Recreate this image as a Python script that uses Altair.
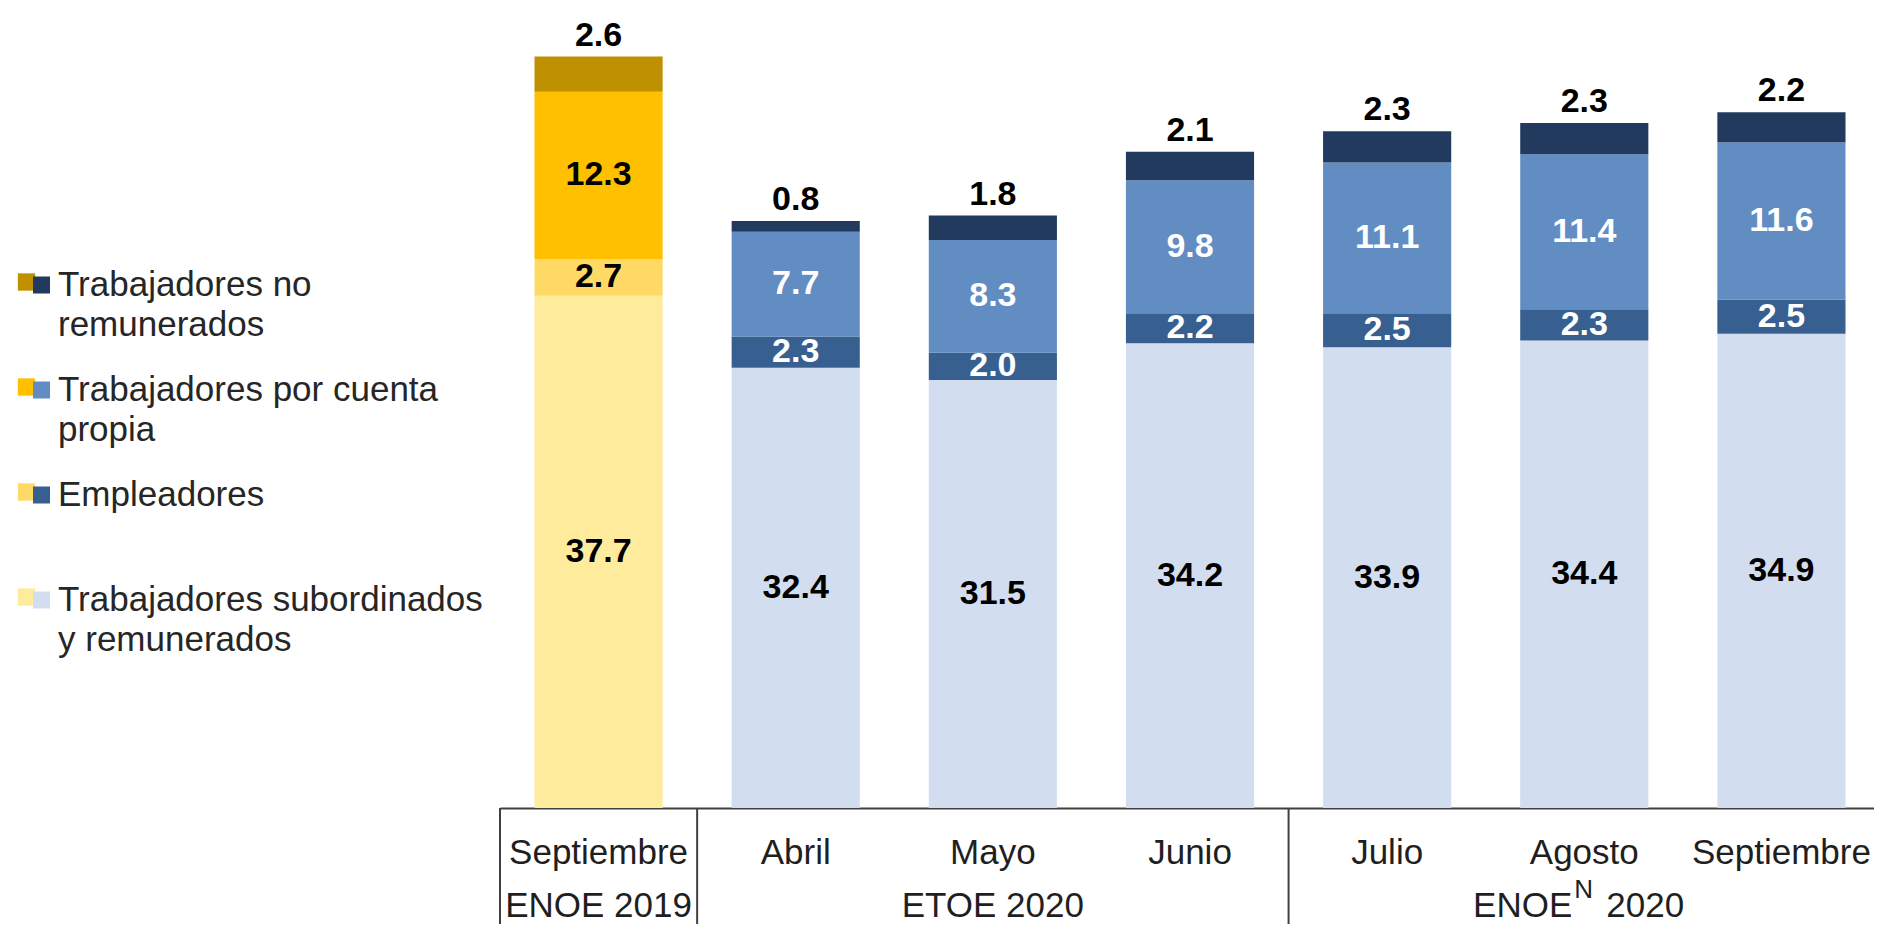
import altair as alt
import pandas as pd

# ---------------- data ----------------
periods = ["Septiembre 2019", "Abril", "Mayo", "Junio", "Julio", "Agosto", "Septiembre 2020"]
period_survey = ["2019", "2020", "2020", "2020", "2020", "2020", "2020"]

series = [
    "Trabajadores subordinados y remunerados",
    "Empleadores",
    "Trabajadores por cuenta propia",
    "Trabajadores no remunerados",
]
subordinados = [37.7, 32.4, 31.5, 34.2, 33.9, 34.4, 34.9]
empleadores = [2.7, 2.3, 2.0, 2.2, 2.5, 2.3, 2.5]
cuenta_propia = [12.3, 7.7, 8.3, 9.8, 11.1, 11.4, 11.6]
no_remunerados = [2.6, 0.8, 1.8, 2.1, 2.3, 2.3, 2.2]

colors_2019 = ["#FFEB9C", "#FFD966", "#FFC000", "#BF9000"]
colors_2020 = ["#D2DEEF", "#375F8F", "#618DC2", "#223A5E"]

# legend, top to bottom
legend_series = [
    "Trabajadores no remunerados",
    "Trabajadores por cuenta propia",
    "Empleadores",
    "Trabajadores subordinados y remunerados",
]
legend_labels = [
    "Trabajadores no\nremunerados",
    "Trabajadores por cuenta\npropia",
    "Empleadores",
    "Trabajadores subordinados\ny remunerados",
]

group_start = ["Septiembre 2019", "Abril", "Julio"]
group_center = ["Septiembre 2019", "Mayo", "Agosto"]
group_base = ["ENOE", "ETOE", "ENOE"]
group_sup = ["", "", "N"]
group_year = ["2019", "2020", "2020"]

# ---------------- tables ----------------
values = [subordinados, empleadores, cuenta_propia, no_remunerados]
rows = []
for pi, p in enumerate(periods):
    cum = 0.0
    yr = period_survey[pi]
    for si, s in enumerate(series):
        v = values[si][pi]
        rows.append({
            "period": p,
            "series": s,
            "order": si,
            "value": v,
            "start": cum,
            "end": cum + v,
            "mid": cum + v / 2,
            "key": f"{yr}|{s}",
            "pos": "top" if si == len(series) - 1 else "in",
            "light": (yr == "2020") and si in (1, 2),
        })
        cum += v
df = pd.DataFrame(rows)

keys = [f"2019|{s}" for s in series] + [f"2020|{s}" for s in series]
color_scale = alt.Scale(domain=keys, range=colors_2019 + colors_2020)

leg_df = pd.DataFrame({
    "idx": list(range(len(legend_series))),
    "label": legend_labels,
    "k19": [f"2019|{s}" for s in legend_series],
    "k20": [f"2020|{s}" for s in legend_series],
})

sep_df = pd.DataFrame({"period": group_start})
plain_groups = pd.DataFrame({
    "period": [c for c, s in zip(group_center, group_sup) if s == ""],
    "label": [f"{b} {y}" for b, s, y in zip(group_base, group_sup, group_year) if s == ""],
})
sup_groups = pd.DataFrame({
    "period": [c for c, s in zip(group_center, group_sup) if s != ""],
    "base": [b for b, s in zip(group_base, group_sup) if s != ""],
    "sup": [s for s in group_sup if s != ""],
    "year": [y for y, s in zip(group_year, group_sup) if s != ""],
})

# ---------------- encodings ----------------
FONT = "Liberation Sans"
X_RANGE = [492, 1872]
x_scale = alt.Scale(domain=periods, range=X_RANGE, paddingInner=0.35, paddingOuter=0.175)
x_axis = alt.Axis(
    title=None, ticks=False, tickSize=0, grid=False,
    domainColor="#404040", domainWidth=2,
    labelFont=FONT, labelFontSize=35, labelColor="#1f1f1f",
    labelBaseline="alphabetic", labelPadding=55, labelLimit=0,
    labelExpr="split(datum.label, ' ')[0]", labelAngle=0,
)
X = alt.X("period:N", scale=x_scale, sort=periods, axis=x_axis)
y_scale = alt.Scale(domain=[0, 58.87], nice=False, zero=True)

bars = alt.Chart(df).mark_bar().encode(
    x=X,
    y=alt.Y("end:Q", scale=y_scale, axis=None),
    y2="start:Q",
    color=alt.Color("key:N", scale=color_scale, legend=None),
)

in_dark = alt.Chart(df).transform_filter(
    "datum.pos == 'in' && !datum.light"
).mark_text(font=FONT, fontSize=34, fontWeight="bold", color="black", baseline="middle").encode(
    x=X,
    y=alt.Y("mid:Q", scale=y_scale, axis=None),
    text=alt.Text("value:Q", format=".1f"),
)
in_light = alt.Chart(df).transform_filter(
    "datum.pos == 'in' && datum.light"
).mark_text(font=FONT, fontSize=34, fontWeight="bold", color="white", baseline="middle").encode(
    x=X,
    y=alt.Y("mid:Q", scale=y_scale, axis=None),
    text=alt.Text("value:Q", format=".1f"),
)
top_labels = alt.Chart(df).transform_filter(
    "datum.pos == 'top'"
).mark_text(font=FONT, fontSize=34, fontWeight="bold", color="black", baseline="alphabetic", dy=-11).encode(
    x=X,
    y=alt.Y("end:Q", scale=y_scale, axis=None),
    text=alt.Text("value:Q", format=".1f"),
)

GROUP_Y = 909
grp_plain = alt.Chart(plain_groups).mark_text(
    font=FONT, fontSize=35, color="#1f1f1f", align="center", baseline="alphabetic"
).encode(x=X, y=alt.value(GROUP_Y), text="label:N")

grp_base = alt.Chart(sup_groups).mark_text(
    font=FONT, fontSize=35, color="#1f1f1f", align="right", baseline="alphabetic", dx=-12
).encode(x=X, y=alt.value(GROUP_Y), text="base:N")
grp_sup = alt.Chart(sup_groups).mark_text(
    font=FONT, fontSize=26, color="#1f1f1f", align="left", baseline="alphabetic", dx=-10
).encode(x=X, y=alt.value(GROUP_Y - 19), text="sup:N")
grp_year = alt.Chart(sup_groups).mark_text(
    font=FONT, fontSize=35, color="#1f1f1f", align="left", baseline="alphabetic", dx=22
).encode(x=X, y=alt.value(GROUP_Y), text="year:N")

main = alt.layer(bars, in_dark, in_light, top_labels, grp_plain, grp_base, grp_sup, grp_year)

# separators: band scale over the same periods, no padding -> band starts are cell edges
sep_scale = alt.Scale(domain=periods, range=X_RANGE, paddingInner=0, paddingOuter=0)
seps = alt.Chart(sep_df).mark_rule(color="#404040", strokeWidth=2).encode(
    x=alt.X("period:N", scale=sep_scale, sort=periods, axis=None, bandPosition=0),
    y=alt.value(800),
    y2=alt.value(960),
)

leg_gold = alt.Chart(leg_df).mark_square(size=300, opacity=1, strokeWidth=0).encode(
    x=alt.value(18.5),
    y=alt.Y("idx:Q", scale=alt.Scale(domain=[0, 3], range=[274, 589]), axis=None),
    color=alt.Color("k19:N", scale=color_scale, legend=None),
)
leg_blue = alt.Chart(leg_df).mark_square(size=289, opacity=1, strokeWidth=0).encode(
    x=alt.value(33.5),
    y=alt.Y("idx:Q", scale=alt.Scale(domain=[0, 3], range=[277, 592]), axis=None),
    color=alt.Color("k20:N", scale=color_scale, legend=None),
)
leg_text = alt.Chart(leg_df).mark_text(
    font=FONT, fontSize=35, color="#262626", align="left", baseline="alphabetic",
    lineBreak="\n", lineHeight=40,
).encode(
    x=alt.value(50),
    y=alt.Y("idx:Q", scale=alt.Scale(domain=[0, 3], range=[288, 603]), axis=None),
    text="label:N",
)

chart = alt.layer(main, seps, leg_gold, leg_blue, leg_text).resolve_scale(
    x="independent", y="independent"
).properties(
    width=1866,
    height=800,
    autosize=alt.AutoSizeParams(type="none"),
    padding={"left": 0, "top": 0, "right": 0, "bottom": 116},
    background="white",
).configure_view(stroke=None)

chart.save("out.html", embed_options={"renderer": "svg", "actions": False})
